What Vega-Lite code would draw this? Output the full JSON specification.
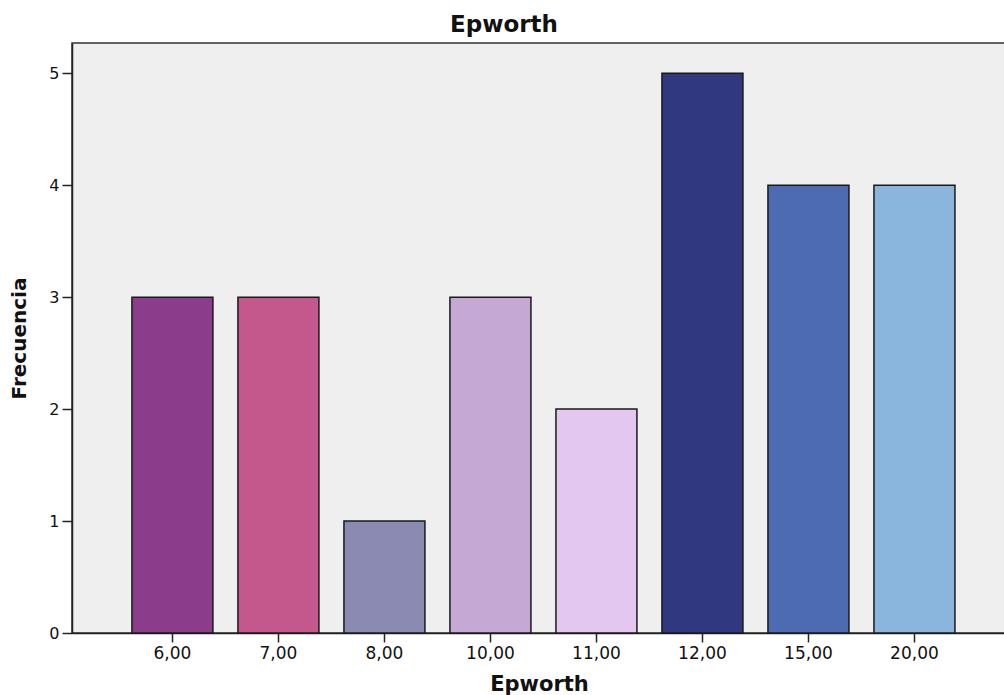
{
  "$schema": "https://vega.github.io/schema/vega-lite/v6.json",
  "autosize": {"type": "none"},
  "padding": {"left": 72, "top": 43, "right": 0, "bottom": 62},
  "width": 934,
  "height": 590,
  "background": "white",
  "config": {
    "font": "DejaVu Sans",
    "view": {"fill": "#EFEFEF", "stroke": "#333333", "strokeWidth": 1.5}
  },
  "title": {
    "text": "Epworth",
    "font": "DejaVu Sans",
    "fontSize": 23,
    "fontWeight": "bold",
    "color": "#111111",
    "anchor": "middle",
    "dx": -35,
    "offset": 6
  },
  "data": {
    "values": [
      {"Epworth": "6,00", "Frecuencia": 3},
      {"Epworth": "7,00", "Frecuencia": 3},
      {"Epworth": "8,00", "Frecuencia": 1},
      {"Epworth": "10,00", "Frecuencia": 3},
      {"Epworth": "11,00", "Frecuencia": 2},
      {"Epworth": "12,00", "Frecuencia": 5},
      {"Epworth": "15,00", "Frecuencia": 4},
      {"Epworth": "20,00", "Frecuencia": 4}
    ]
  },
  "mark": {"type": "bar", "stroke": "#1a1a1a", "strokeWidth": 1.5, "opacity": 1},
  "encoding": {
    "x": {
      "field": "Epworth",
      "type": "nominal",
      "sort": null,
      "scale": {"paddingInner": 0.236, "paddingOuter": 0.5235, "align": 0.54},
      "axis": {
        "title": "Epworth",
        "titleFont": "DejaVu Sans",
        "titleFontSize": 21,
        "titleFontWeight": "bold",
        "titleColor": "#111111",
        "titlePadding": 12,
        "labelAngle": 0,
        "labelFont": "DejaVu Sans",
        "labelFontSize": 17,
        "labelColor": "#111111",
        "labelPadding": 3,
        "tickSize": 9,
        "tickColor": "#222222",
        "tickWidth": 1.5,
        "domainColor": "#222222",
        "domainWidth": 1.5
      }
    },
    "y": {
      "field": "Frecuencia",
      "type": "quantitative",
      "scale": {"domain": [0, 5.27], "nice": false},
      "axis": {
        "title": "Frecuencia",
        "values": [0, 1, 2, 3, 4, 5],
        "grid": false,
        "titleFont": "DejaVu Sans",
        "titleFontSize": 20,
        "titleFontWeight": "bold",
        "titleColor": "#111111",
        "titlePadding": 19,
        "labelFont": "DejaVu Sans",
        "labelFontSize": 16,
        "labelColor": "#111111",
        "labelPadding": 3,
        "tickSize": 10,
        "tickColor": "#222222",
        "tickWidth": 1.5,
        "domainColor": "#222222",
        "domainWidth": 1.5
      }
    },
    "color": {
      "field": "Epworth",
      "type": "nominal",
      "sort": null,
      "legend": null,
      "scale": {
        "domain": ["6,00", "7,00", "8,00", "10,00", "11,00", "12,00", "15,00", "20,00"],
        "range": ["#8B3D8B", "#C4588D", "#8B8AB2", "#C5A8D4", "#E3C7F1", "#303880", "#4D6BB3", "#8AB6DD"]
      }
    }
  }
}
